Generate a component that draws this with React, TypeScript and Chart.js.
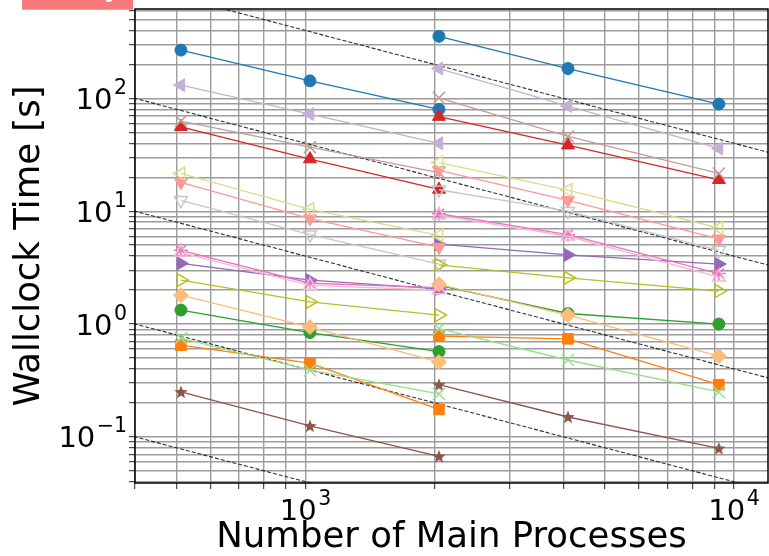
import React, { useEffect, useRef } from 'react';
import { Chart, registerables } from 'chart.js';

Chart.register(...registerables);

// ---- data ----
const procsA = [512, 1024, 2048];
const procsB = [2048, 4096, 9216];

const blueA = [268, 143, 80];
const blueB = [355, 184, 89];
const orangeA = [0.65, 0.45, 0.175];
const orangeB = [0.78, 0.74, 0.29];
const greenA = [1.33, 0.84, 0.57];
const greenB = [2.2, 1.24, 1.0];
const redA = [56, 29, 15.6];
const redB = [69, 38.5, 19];
const purpleA = [3.45, 2.45, 2.05];
const purpleB = [5.1, 4.1, 3.4];
const brownA = [0.25, 0.125, 0.067];
const brownB = [0.29, 0.15, 0.079];
const pinkA = [4.5, 2.3, 2.1];
const pinkB = [9.5, 6.2, 2.8];
const lightGrayA = [12.5, 6.2, 3.4];
const lightGrayB = [15.5, 10, 4.5];
const oliveA = [2.45, 1.57, 1.2];
const oliveB = [3.35, 2.57, 1.96];
const lavenderA = [131, 72.6, 40];
const lavenderB = [184, 85.5, 36];
const lightBrownA = [63, 37, 22];
const lightBrownB = [101, 46, 21.6];
const lightRedA = [18, 8.6, 4.8];
const lightRedB = [23, 12.5, 5.7];
const lightOliveA = [21.6, 10.4, 6.1];
const lightOliveB = [27, 15.4, 7.1];
const lightOrangeA = [1.8, 0.94, 0.46];
const lightOrangeB = [2.25, 1.2, 0.52];
const lightGreenA = [0.75, 0.39, 0.24];
const lightGreenB = [0.91, 0.48, 0.25];
const lightPinkA = [4.3, 2.2, 2.0];
const lightPinkB = [9.2, 6.0, 2.6];

// ideal scaling reference lines: y = C / x
const idealConst = [400000, 40000, 4000, 400, 40];
const idealX = [300, 15000];

// ---- axes ----
const xMin = 400;
const xMax = 12000;
const yMin = 0.039;
const yMax = 620;
const xGridValues = [400, 500, 600, 700, 800, 900, 1000, 2000, 3000, 4000, 5000, 6000, 7000, 8000, 9000, 10000];
const xTickValues = [1000, 10000];
const xTickExponents = ['3', '4'];
const yGridValues = [
  0.04, 0.05, 0.06, 0.07, 0.08, 0.09,
  0.1, 0.2, 0.3, 0.4, 0.5, 0.6, 0.7, 0.8, 0.9,
  1, 2, 3, 4, 5, 6, 7, 8, 9,
  10, 20, 30, 40, 50, 60, 70, 80, 90,
  100, 200, 300, 400, 500, 600,
];
const yTickValues = [0.1, 1, 10, 100];
const yTickExponents = ['\u22121', '0', '1', '2'];
const tickBase = '10';

const xTitle = 'Number of Main Processes';
const yTitle = 'Wallclock Time [s]';

// ---- styles (separate from data) ----
type Series = { color: string; marker: string; rot?: number; open?: boolean; r: number; a: number[]; b: number[] };
const seriesList: Series[] = [
  { color: '#1f77b4', marker: 'circle', r: 6, a: blueA, b: blueB },
  { color: '#ff7f0e', marker: 'rect', r: 7.5, a: orangeA, b: orangeB },
  { color: '#2ca02c', marker: 'circle', r: 6, a: greenA, b: greenB },
  { color: '#d62728', marker: 'triangle', rot: 0, r: 7.5, a: redA, b: redB },
  { color: '#9467bd', marker: 'triangle', rot: 90, r: 7.5, a: purpleA, b: purpleB },
  { color: '#8c564b', marker: 'starFilled', r: 7, a: brownA, b: brownB },
  { color: '#e377c2', marker: 'star', r: 7, a: pinkA, b: pinkB },
  { color: '#c7c7c7', marker: 'triangle', rot: 180, open: true, r: 7.5, a: lightGrayA, b: lightGrayB },
  { color: '#bcbd22', marker: 'triangle', rot: 90, open: true, r: 7.5, a: oliveA, b: oliveB },
  { color: '#c5b0d5', marker: 'triangle', rot: 270, r: 7.5, a: lavenderA, b: lavenderB },
  { color: '#c49c94', marker: 'crossRot', r: 8.5, a: lightBrownA, b: lightBrownB },
  { color: '#ff9896', marker: 'triangle', rot: 180, r: 7.5, a: lightRedA, b: lightRedB },
  { color: '#dbdb8d', marker: 'triangle', rot: 270, open: true, r: 7.5, a: lightOliveA, b: lightOliveB },
  { color: '#ffbb78', marker: 'rectRot', r: 7.5, a: lightOrangeA, b: lightOrangeB },
  { color: '#98df8a', marker: 'crossRot', r: 8.5, a: lightGreenA, b: lightGreenB },
  { color: '#f7b6d2', marker: 'triangle', rot: 0, open: true, r: 7.5, a: lightPinkA, b: lightPinkB },
];

const FONT = "'DejaVu Sans', 'Liberation Sans', sans-serif";
const GRID = '#9c9c9c';

function makeStar(color: string, r: number): HTMLCanvasElement {
  const size = Math.ceil(r * 2 + 2);
  const c = document.createElement('canvas');
  c.width = size;
  c.height = size;
  const g = c.getContext('2d')!;
  const cx = size / 2;
  const cy = size / 2 + 0.5;
  g.beginPath();
  for (let i = 0; i < 10; i++) {
    const ang = -Math.PI / 2 + (i * Math.PI) / 5;
    const rr = i % 2 === 0 ? r : r * 0.42;
    const px = cx + rr * Math.cos(ang);
    const py = cy + rr * Math.sin(ang);
    if (i === 0) g.moveTo(px, py);
    else g.lineTo(px, py);
  }
  g.closePath();
  g.fillStyle = color;
  g.fill();
  return c;
}

const framePlugin = {
  id: 'frame',
  afterDatasetsDraw(chart: any) {
    const { ctx, chartArea: a } = chart;
    ctx.save();
    ctx.strokeStyle = '#000';
    ctx.lineWidth = 1.5;
    ctx.strokeRect(a.left, a.top, a.right - a.left, a.bottom - a.top);
    ctx.restore();
  },
};

// power-of-ten tick labels with raised exponents (like matplotlib mathtext)
const powLabelPlugin = {
  id: 'powLabels',
  afterDraw(chart: any) {
    const ctx = chart.ctx;
    const xs = chart.scales.x;
    const ys = chart.scales.y;
    const baseFont = `29px ${FONT}`;
    const expFont = `20.5px ${FONT}`;
    const gap = 1.5;
    const rise = 15;
    ctx.save();
    ctx.fillStyle = '#000';
    ctx.textBaseline = 'alphabetic';
    ctx.textAlign = 'left';
    const drawPow = (exp: string, x: number, y: number, align: string) => {
      ctx.font = baseFont;
      const bw = ctx.measureText(tickBase).width;
      ctx.font = expFont;
      const ew = ctx.measureText(exp).width;
      const total = bw + gap + ew;
      const x0 = align === 'center' ? x - total / 2 : x - total;
      ctx.font = baseFont;
      ctx.fillText(tickBase, x0, y);
      ctx.font = expFont;
      ctx.fillText(exp, x0 + bw + gap, y - rise);
    };
    const xBase = chart.chartArea.bottom + 37;
    xTickValues.forEach((v, i) => drawPow(xTickExponents[i], xs.getPixelForValue(v), xBase, 'center'));
    const yRight = chart.chartArea.left - 8;
    yTickValues.forEach((v, i) => drawPow(yTickExponents[i], yRight, ys.getPixelForValue(v) + 10.6, 'right'));
    ctx.restore();
  },
};

export default function App() {
  const ref = useRef<HTMLCanvasElement | null>(null);

  useEffect(() => {
    if (!ref.current) return;
    const datasets: any[] = [];
    const seriesSets: any[] = [];
    seriesList.forEach((s) => {
      const style = s.marker === 'starFilled' ? makeStar(s.color, s.r) : s.marker;
      [
        { xs: procsA, ys: s.a },
        { xs: procsB, ys: s.b },
      ].forEach(({ xs, ys }) => {
        seriesSets.push({
          data: xs.map((x, i) => ({ x, y: ys[i] })),
          borderColor: s.color,
          borderWidth: 1.3,
          fill: false,
          tension: 0,
          pointStyle: style,
          pointRotation: s.rot || 0,
          pointRadius: s.r,
          pointBorderWidth: s.open || s.marker === 'crossRot' || s.marker === 'star' ? 1.5 : 1,
          pointBorderColor: s.color,
          pointBackgroundColor: s.open ? 'rgba(0,0,0,0)' : s.color,
        });
      });
    });
    // later series drawn on top: chart.js draws index 0 last
    seriesSets.reverse().forEach((d) => datasets.push(d));
    idealConst.forEach((c) => {
      datasets.push({
        data: idealX.map((x) => ({ x, y: c / x })),
        borderColor: 'rgba(25,25,25,0.9)',
        borderWidth: 1.1,
        borderDash: [4, 2],
        pointRadius: 0,
        fill: false,
        tension: 0,
      });
    });

    const chart = new Chart(ref.current, {
      type: 'line',
      data: { datasets },
      options: {
        responsive: false,
        animation: false,
        devicePixelRatio: 1,
        events: [],
        layout: { autoPadding: false, padding: { top: 9, right: 1, left: 0, bottom: 0 } },
        plugins: { legend: { display: false }, tooltip: { enabled: false }, title: { display: false } },
        scales: {
          x: {
            type: 'logarithmic',
            min: xMin,
            max: xMax,
            afterBuildTicks: (ax: any) => {
              ax.ticks = xGridValues.map((v) => ({ value: v }));
            },
            afterFit: (ax: any) => {
              ax.height = 73;
              ax.paddingLeft = 0;
              ax.paddingRight = 0;
            },
            ticks: { display: false, autoSkip: false, maxRotation: 0, minRotation: 0 },
            grid: { color: GRID, lineWidth: 1.4, drawTicks: true, tickLength: 6, tickColor: '#222', tickWidth: 1 },
            border: { display: false },
            title: {
              display: true,
              text: xTitle,
              color: '#000',
              font: { family: FONT, size: 35.5, lineHeight: 1 },
              padding: { top: 0, bottom: 0 },
            },
          },
          y: {
            type: 'logarithmic',
            min: yMin,
            max: yMax,
            afterBuildTicks: (ax: any) => {
              ax.ticks = yGridValues.map((v) => ({ value: v }));
            },
            afterFit: (ax: any) => {
              ax.width = 135;
              ax.paddingTop = 0;
              ax.paddingBottom = 0;
            },
            ticks: { display: false, autoSkip: false },
            grid: { color: GRID, lineWidth: 1.4, drawTicks: true, tickLength: 6, tickColor: '#222', tickWidth: 1 },
            border: { display: false },
            title: {
              display: true,
              text: yTitle,
              color: '#000',
              font: { family: FONT, size: 35.5, lineHeight: 1 },
              padding: { top: 12, bottom: 0 },
            },
          },
        },
      } as any,
      plugins: [framePlugin, powLabelPlugin],
    });
    return () => chart.destroy();
  }, []);

  return (
    <div style={{ position: 'fixed', left: 0, top: 0, width: 769, height: 556, background: '#fff', overflow: 'hidden' }}>
      <canvas ref={ref} width={769} height={556} style={{ display: 'block', width: 769, height: 556 }} />
      <div
        style={{
          position: 'absolute',
          left: 22,
          top: 0,
          width: 111,
          height: 9,
          background: '#f67a7a',
          borderBottom: '1px solid #b9b9b9',
          overflow: 'hidden',
        }}
      >
        <span
          style={{
            position: 'absolute',
            left: 82,
            top: -29,
            fontFamily: FONT,
            fontSize: 30,
            lineHeight: '30px',
            color: '#fff',
          }}
        >
          y
        </span>
      </div>
    </div>
  );
}
